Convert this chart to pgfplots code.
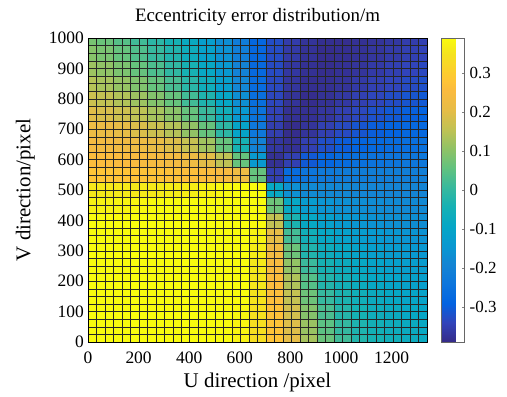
\documentclass[border=0pt]{standalone}
\usepackage{fontspec}
\setmainfont{Liberation Serif}
\usepackage{pgfplots}
\pgfplotsset{compat=1.18}
\begin{document}
\begin{tikzpicture}
\useasboundingbox (-88bp,-55bp) rectangle (419bp,342bp);
\begin{axis}[
  at={(0,0)}, anchor=south west,
  scale only axis, width=339bp, height=304bp,
  xmin=0, xmax=1340, ymin=0, ymax=1000,
  xtick={0,200,400,600,800,1000,1200},
  ytick={0,100,200,300,400,500,600,700,800,900,1000},
  minor xtick={0,33.5,...,1340},
  minor ytick={0,25,...,1000},
  xminorgrids=true, yminorgrids=true,
  minor grid style={black!85, line width=0.45bp},
  major tick length=0pt, minor tick length=0pt,
  axis on top,
  axis line style={black, line width=0.5bp},
  /pgf/number format/assume math mode=true,
  /pgf/number format/1000 sep={},
  ticklabel style={font=\fontsize{17.5}{17.5}\selectfont},
  xticklabel style={anchor=base, yshift=-21bp},
  yticklabel style={anchor=east, inner sep=0pt, xshift=-4bp},
  title={Eccentricity error distribution/m},
  title style={at={(axis description cs:0.5,1.036)}, anchor=base, font=\fontsize{19}{20}\selectfont},
  xlabel={U direction /pixel},
  xlabel style={at={(axis description cs:0.5,-0.151)}, anchor=base, font=\fontsize{21}{22}\selectfont},
  ylabel={V direction/pixel},
  ylabel style={at={(axis description cs:-0.17,0.5)}, anchor=base, font=\fontsize{21}{22}\selectfont},
  colormap={parula}{[1cm]
    rgb(0cm)=(0.2081,0.1663,0.5292)
    rgb(4cm)=(0.1959,0.2645,0.7279)
    rgb(8cm)=(0.0117,0.3875,0.8820)
    rgb(12cm)=(0.0498,0.4586,0.8641)
    rgb(16cm)=(0.0793,0.5200,0.8312)
    rgb(20cm)=(0.0343,0.5966,0.8199)
    rgb(24cm)=(0.0228,0.6535,0.7768)
    rgb(28cm)=(0.0843,0.6928,0.7062)
    rgb(32cm)=(0.2178,0.7250,0.6193)
    rgb(36cm)=(0.3800,0.7600,0.5000)
    rgb(40cm)=(0.5600,0.7600,0.4000)
    rgb(44cm)=(0.7500,0.7600,0.3300)
    rgb(48cm)=(0.9000,0.7400,0.2800)
    rgb(52cm)=(0.9800,0.7314,0.2500)
    rgb(54cm)=(0.9990,0.7653,0.2164)
    rgb(56cm)=(0.9880,0.8066,0.1794)
    rgb(60cm)=(0.9589,0.8949,0.1132)
    rgb(63cm)=(0.9763,0.9831,0.0538)
  },
  point meta min=-0.39, point meta max=0.39,
  colorbar,
  colorbar style={
    at={(parent axis.north east)}, anchor=north west, xshift=6bp,
    scale only axis, width=23bp, height=304bp,
    ytick={-0.3,-0.2,-0.1,0,0.1,0.2,0.3},
    yticklabel style={font=\fontsize{17}{17}\selectfont, anchor=west, inner sep=0pt, xshift=5bp},
    /pgf/number format/assume math mode=true,
    major tick length=3bp, tick align=inside,
    ytick pos=right,
    axis line style={black!60, line width=0.4bp},
  },
]
\addplot[surf, shader=flat corner, mesh/rows=22, mesh/cols=22, point meta=explicit]
table[x=x, y=y, meta=c, row sep=\\] {
x y c\\
0 0 0.39\\ 33.5 0 0.39\\ 100.5 0 0.39\\ 167.5 0 0.39\\ 234.5 0 0.39\\ 301.5 0 0.39\\ 368.5 0 0.39\\ 435.5 0 0.39\\ 502.5 0 0.39\\ 569.5 0 0.378\\ 636.5 0 0.340\\ 703.5 0 0.278\\ 770.5 0 0.205\\ 837.5 0 0.129\\ 904.5 0 0.064\\ 971.5 0 0.016\\ 1038.5 0 -0.023\\ 1105.5 0 -0.042\\ 1172.5 0 -0.058\\ 1239.5 0 -0.070\\ 1306.5 0 -0.078\\ 1340 0 -0.078\\
0 25 0.39\\ 33.5 25 0.39\\ 100.5 25 0.39\\ 167.5 25 0.39\\ 234.5 25 0.39\\ 301.5 25 0.39\\ 368.5 25 0.39\\ 435.5 25 0.39\\ 502.5 25 0.39\\ 569.5 25 0.381\\ 636.5 25 0.342\\ 703.5 25 0.275\\ 770.5 25 0.195\\ 837.5 25 0.116\\ 904.5 25 0.050\\ 971.5 25 0.001\\ 1038.5 25 -0.031\\ 1105.5 25 -0.050\\ 1172.5 25 -0.065\\ 1239.5 25 -0.077\\ 1306.5 25 -0.085\\ 1340 25 -0.085\\
0 75 0.39\\ 33.5 75 0.39\\ 100.5 75 0.39\\ 167.5 75 0.39\\ 234.5 75 0.39\\ 301.5 75 0.39\\ 368.5 75 0.39\\ 435.5 75 0.39\\ 502.5 75 0.39\\ 569.5 75 0.385\\ 636.5 75 0.346\\ 703.5 75 0.271\\ 770.5 75 0.179\\ 837.5 75 0.095\\ 904.5 75 0.029\\ 971.5 75 -0.021\\ 1038.5 75 -0.044\\ 1105.5 75 -0.062\\ 1172.5 75 -0.076\\ 1239.5 75 -0.088\\ 1306.5 75 -0.095\\ 1340 75 -0.095\\
0 125 0.39\\ 33.5 125 0.39\\ 100.5 125 0.39\\ 167.5 125 0.39\\ 234.5 125 0.39\\ 301.5 125 0.39\\ 368.5 125 0.39\\ 435.5 125 0.39\\ 502.5 125 0.39\\ 569.5 125 0.39\\ 636.5 125 0.351\\ 703.5 125 0.265\\ 770.5 125 0.160\\ 837.5 125 0.069\\ 904.5 125 0.004\\ 971.5 125 -0.035\\ 1038.5 125 -0.058\\ 1105.5 125 -0.074\\ 1172.5 125 -0.088\\ 1239.5 125 -0.099\\ 1306.5 125 -0.106\\ 1340 125 -0.106\\
0 175 0.39\\ 33.5 175 0.39\\ 100.5 175 0.39\\ 167.5 175 0.39\\ 234.5 175 0.39\\ 301.5 175 0.39\\ 368.5 175 0.39\\ 435.5 175 0.39\\ 502.5 175 0.39\\ 569.5 175 0.39\\ 636.5 175 0.355\\ 703.5 175 0.258\\ 770.5 175 0.138\\ 837.5 175 0.042\\ 904.5 175 -0.023\\ 971.5 175 -0.052\\ 1038.5 175 -0.072\\ 1105.5 175 -0.088\\ 1172.5 175 -0.100\\ 1239.5 175 -0.111\\ 1306.5 175 -0.118\\ 1340 175 -0.118\\
0 225 0.39\\ 33.5 225 0.39\\ 100.5 225 0.39\\ 167.5 225 0.39\\ 234.5 225 0.39\\ 301.5 225 0.39\\ 368.5 225 0.39\\ 435.5 225 0.39\\ 502.5 225 0.39\\ 569.5 225 0.39\\ 636.5 225 0.360\\ 703.5 225 0.250\\ 770.5 225 0.109\\ 837.5 225 0.010\\ 904.5 225 -0.042\\ 971.5 225 -0.069\\ 1038.5 225 -0.088\\ 1105.5 225 -0.102\\ 1172.5 225 -0.114\\ 1239.5 225 -0.124\\ 1306.5 225 -0.130\\ 1340 225 -0.130\\
0 275 0.39\\ 33.5 275 0.39\\ 100.5 275 0.39\\ 167.5 275 0.39\\ 234.5 275 0.39\\ 301.5 275 0.39\\ 368.5 275 0.39\\ 435.5 275 0.39\\ 502.5 275 0.39\\ 569.5 275 0.39\\ 636.5 275 0.368\\ 703.5 275 0.234\\ 770.5 275 0.069\\ 837.5 275 -0.027\\ 904.5 275 -0.064\\ 971.5 275 -0.088\\ 1038.5 275 -0.105\\ 1105.5 275 -0.119\\ 1172.5 275 -0.130\\ 1239.5 275 -0.138\\ 1306.5 275 -0.143\\ 1340 275 -0.143\\
0 325 0.39\\ 33.5 325 0.39\\ 100.5 325 0.39\\ 167.5 325 0.39\\ 234.5 325 0.39\\ 301.5 325 0.39\\ 368.5 325 0.39\\ 435.5 325 0.39\\ 502.5 325 0.39\\ 569.5 325 0.39\\ 636.5 325 0.377\\ 703.5 325 0.208\\ 770.5 325 0.021\\ 837.5 325 -0.055\\ 904.5 325 -0.088\\ 971.5 325 -0.110\\ 1038.5 325 -0.125\\ 1105.5 325 -0.137\\ 1172.5 325 -0.146\\ 1239.5 325 -0.153\\ 1306.5 325 -0.157\\ 1340 325 -0.157\\
0 375 0.39\\ 33.5 375 0.39\\ 100.5 375 0.39\\ 167.5 375 0.39\\ 234.5 375 0.39\\ 301.5 375 0.39\\ 368.5 375 0.39\\ 435.5 375 0.39\\ 502.5 375 0.39\\ 569.5 375 0.39\\ 636.5 375 0.39\\ 703.5 375 0.160\\ 770.5 375 -0.035\\ 837.5 375 -0.088\\ 904.5 375 -0.116\\ 971.5 375 -0.135\\ 1038.5 375 -0.148\\ 1105.5 375 -0.157\\ 1172.5 375 -0.163\\ 1239.5 375 -0.167\\ 1306.5 375 -0.170\\ 1340 375 -0.170\\
0 425 0.375\\ 33.5 425 0.377\\ 100.5 425 0.380\\ 167.5 425 0.384\\ 234.5 425 0.389\\ 301.5 425 0.39\\ 368.5 425 0.39\\ 435.5 425 0.39\\ 502.5 425 0.39\\ 569.5 425 0.39\\ 636.5 425 0.39\\ 703.5 425 0.069\\ 770.5 425 -0.088\\ 837.5 425 -0.130\\ 904.5 425 -0.151\\ 971.5 425 -0.163\\ 1038.5 425 -0.169\\ 1105.5 425 -0.174\\ 1172.5 425 -0.177\\ 1239.5 425 -0.180\\ 1306.5 425 -0.182\\ 1340 425 -0.182\\
0 475 0.358\\ 33.5 475 0.359\\ 100.5 475 0.360\\ 167.5 475 0.361\\ 234.5 475 0.363\\ 301.5 475 0.366\\ 368.5 475 0.369\\ 435.5 475 0.374\\ 502.5 475 0.384\\ 569.5 475 0.39\\ 636.5 475 0.39\\ 703.5 475 -0.088\\ 770.5 475 -0.163\\ 837.5 475 -0.177\\ 904.5 475 -0.184\\ 971.5 475 -0.187\\ 1038.5 475 -0.190\\ 1105.5 475 -0.191\\ 1172.5 475 -0.193\\ 1239.5 475 -0.193\\ 1306.5 475 -0.194\\ 1340 475 -0.194\\
0 525 0.280\\ 33.5 525 0.280\\ 100.5 525 0.278\\ 167.5 525 0.277\\ 234.5 525 0.275\\ 301.5 525 0.272\\ 368.5 525 0.268\\ 435.5 525 0.262\\ 502.5 525 0.250\\ 569.5 525 0.225\\ 636.5 525 0.061\\ 703.5 525 -0.348\\ 770.5 525 -0.265\\ 837.5 525 -0.240\\ 904.5 525 -0.228\\ 971.5 525 -0.222\\ 1038.5 525 -0.218\\ 1105.5 525 -0.215\\ 1172.5 525 -0.213\\ 1239.5 525 -0.212\\ 1306.5 525 -0.211\\ 1340 525 -0.211\\
0 575 0.261\\ 33.5 575 0.259\\ 100.5 575 0.255\\ 167.5 575 0.250\\ 234.5 575 0.244\\ 301.5 575 0.236\\ 368.5 575 0.225\\ 435.5 575 0.200\\ 502.5 575 0.153\\ 569.5 575 0.061\\ 636.5 575 -0.139\\ 703.5 575 -0.377\\ 770.5 575 -0.348\\ 837.5 575 -0.306\\ 904.5 575 -0.281\\ 971.5 575 -0.265\\ 1038.5 575 -0.254\\ 1105.5 575 -0.246\\ 1172.5 575 -0.240\\ 1239.5 575 -0.235\\ 1306.5 575 -0.232\\ 1340 575 -0.232\\
0 625 0.242\\ 33.5 625 0.238\\ 100.5 625 0.232\\ 167.5 625 0.225\\ 234.5 625 0.213\\ 301.5 625 0.193\\ 368.5 625 0.165\\ 435.5 625 0.124\\ 502.5 625 0.061\\ 569.5 625 -0.041\\ 636.5 625 -0.200\\ 703.5 625 -0.365\\ 770.5 625 -0.376\\ 837.5 625 -0.348\\ 904.5 625 -0.322\\ 971.5 625 -0.300\\ 1038.5 625 -0.285\\ 1105.5 625 -0.274\\ 1172.5 625 -0.265\\ 1239.5 625 -0.258\\ 1306.5 625 -0.253\\ 1340 625 -0.253\\
0 675 0.223\\ 33.5 675 0.217\\ 100.5 675 0.205\\ 167.5 675 0.189\\ 234.5 675 0.169\\ 301.5 675 0.144\\ 368.5 675 0.109\\ 435.5 675 0.061\\ 502.5 675 -0.009\\ 569.5 675 -0.101\\ 636.5 675 -0.231\\ 703.5 675 -0.350\\ 770.5 675 -0.385\\ 837.5 675 -0.371\\ 904.5 675 -0.348\\ 971.5 675 -0.330\\ 1038.5 675 -0.312\\ 1105.5 675 -0.298\\ 1172.5 675 -0.287\\ 1239.5 675 -0.278\\ 1306.5 675 -0.273\\ 1340 675 -0.273\\
0 725 0.197\\ 33.5 725 0.187\\ 100.5 725 0.172\\ 167.5 725 0.153\\ 234.5 725 0.130\\ 301.5 725 0.100\\ 368.5 725 0.061\\ 435.5 725 0.009\\ 502.5 725 -0.055\\ 569.5 725 -0.139\\ 636.5 725 -0.248\\ 703.5 725 -0.341\\ 770.5 725 -0.377\\ 837.5 725 -0.378\\ 904.5 725 -0.367\\ 971.5 725 -0.348\\ 1038.5 725 -0.334\\ 1105.5 725 -0.319\\ 1172.5 725 -0.306\\ 1239.5 725 -0.296\\ 1306.5 725 -0.290\\ 1340 725 -0.290\\
0 775 0.170\\ 33.5 775 0.158\\ 100.5 775 0.140\\ 167.5 775 0.120\\ 234.5 775 0.093\\ 301.5 775 0.061\\ 368.5 775 0.019\\ 435.5 775 -0.030\\ 502.5 775 -0.091\\ 569.5 775 -0.166\\ 636.5 775 -0.259\\ 703.5 775 -0.335\\ 770.5 775 -0.372\\ 837.5 775 -0.384\\ 904.5 775 -0.375\\ 971.5 775 -0.363\\ 1038.5 775 -0.348\\ 1105.5 775 -0.336\\ 1172.5 775 -0.325\\ 1239.5 775 -0.313\\ 1306.5 775 -0.306\\ 1340 775 -0.306\\
0 825 0.144\\ 33.5 825 0.131\\ 100.5 825 0.112\\ 167.5 825 0.089\\ 234.5 825 0.061\\ 301.5 825 0.026\\ 368.5 825 -0.014\\ 435.5 825 -0.061\\ 502.5 825 -0.118\\ 569.5 825 -0.185\\ 636.5 825 -0.267\\ 703.5 825 -0.332\\ 770.5 825 -0.368\\ 837.5 825 -0.381\\ 904.5 825 -0.379\\ 971.5 825 -0.372\\ 1038.5 825 -0.360\\ 1105.5 825 -0.348\\ 1172.5 825 -0.338\\ 1239.5 825 -0.329\\ 1306.5 825 -0.321\\ 1340 825 -0.321\\
0 875 0.120\\ 33.5 875 0.106\\ 100.5 875 0.085\\ 167.5 875 0.061\\ 234.5 875 0.032\\ 301.5 875 -0.003\\ 368.5 875 -0.041\\ 435.5 875 -0.087\\ 502.5 875 -0.139\\ 569.5 875 -0.200\\ 636.5 875 -0.273\\ 703.5 875 -0.329\\ 770.5 875 -0.365\\ 837.5 875 -0.377\\ 904.5 875 -0.383\\ 971.5 875 -0.376\\ 1038.5 875 -0.370\\ 1105.5 875 -0.359\\ 1172.5 875 -0.348\\ 1239.5 875 -0.339\\ 1306.5 875 -0.333\\ 1340 875 -0.333\\
0 925 0.097\\ 33.5 925 0.083\\ 100.5 925 0.061\\ 167.5 925 0.035\\ 234.5 925 0.005\\ 301.5 925 -0.027\\ 368.5 925 -0.065\\ 435.5 925 -0.107\\ 502.5 925 -0.157\\ 569.5 925 -0.212\\ 636.5 925 -0.277\\ 703.5 925 -0.327\\ 770.5 925 -0.359\\ 837.5 925 -0.374\\ 904.5 925 -0.384\\ 971.5 925 -0.380\\ 1038.5 925 -0.374\\ 1105.5 925 -0.368\\ 1172.5 925 -0.357\\ 1239.5 925 -0.348\\ 1306.5 925 -0.342\\ 1340 925 -0.342\\
0 975 0.081\\ 33.5 975 0.066\\ 100.5 975 0.043\\ 167.5 975 0.018\\ 234.5 975 -0.011\\ 301.5 975 -0.043\\ 368.5 975 -0.079\\ 435.5 975 -0.121\\ 502.5 975 -0.167\\ 569.5 975 -0.220\\ 636.5 975 -0.280\\ 703.5 975 -0.325\\ 770.5 975 -0.355\\ 837.5 975 -0.372\\ 904.5 975 -0.381\\ 971.5 975 -0.382\\ 1038.5 975 -0.377\\ 1105.5 975 -0.372\\ 1172.5 975 -0.364\\ 1239.5 975 -0.354\\ 1306.5 975 -0.348\\ 1340 975 -0.348\\
0 1000 0.081\\ 33.5 1000 0.066\\ 100.5 1000 0.043\\ 167.5 1000 0.018\\ 234.5 1000 -0.011\\ 301.5 1000 -0.043\\ 368.5 1000 -0.079\\ 435.5 1000 -0.121\\ 502.5 1000 -0.167\\ 569.5 1000 -0.220\\ 636.5 1000 -0.280\\ 703.5 1000 -0.325\\ 770.5 1000 -0.355\\ 837.5 1000 -0.372\\ 904.5 1000 -0.381\\ 971.5 1000 -0.382\\ 1038.5 1000 -0.377\\ 1105.5 1000 -0.372\\ 1172.5 1000 -0.364\\ 1239.5 1000 -0.354\\ 1306.5 1000 -0.348\\ 1340 1000 -0.348\\
};
\end{axis}
\end{tikzpicture}
\end{document}
